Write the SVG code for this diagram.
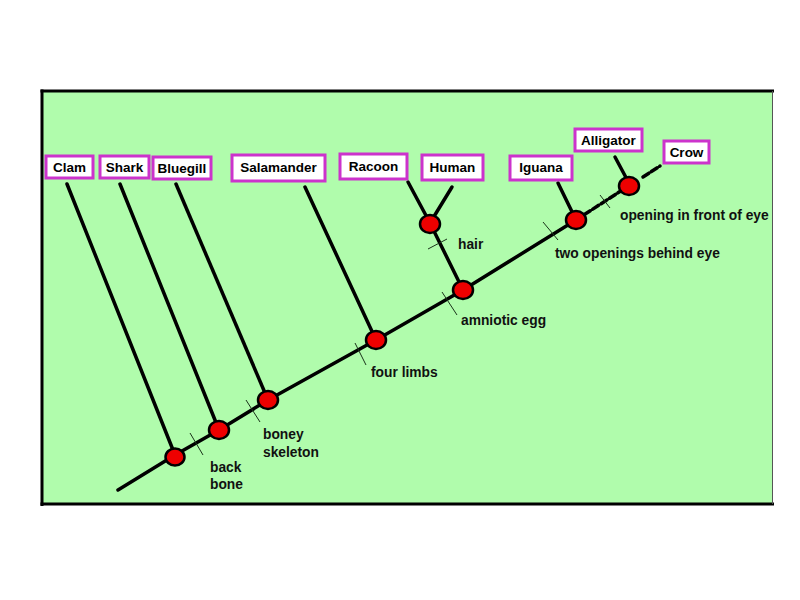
<svg xmlns="http://www.w3.org/2000/svg" width="800" height="600" viewBox="0 0 800 600">
<style>
.lbl rect{fill:#fff;stroke:#cc33cc;stroke-width:3}
.lbl text{font-family:"Liberation Sans",Arial,sans-serif;font-weight:bold;font-size:13.5px;fill:#000;text-anchor:middle}
.note{font-family:"Liberation Sans",Arial,sans-serif;font-weight:bold;font-size:13.8px;fill:#111}
.br{stroke:#000;stroke-width:3.5;fill:none;stroke-linecap:round}
.dash{stroke-dasharray:7 3}
.tick{stroke:#1a331a;stroke-width:1}
.node{fill:#ee0000;stroke:#000;stroke-width:2.5}
</style>
<rect x="0" y="0" width="800" height="600" fill="#fff"/>
<rect x="42" y="91" width="731" height="413" fill="#b0fcac"/>
<g stroke="#000">
<line x1="40.5" y1="91" x2="774" y2="91" stroke-width="3"/>
<line x1="42" y1="89.5" x2="42" y2="506" stroke-width="3"/>
<line x1="40.5" y1="504" x2="774" y2="504" stroke-width="3"/>
<line x1="772.5" y1="91" x2="772.5" y2="504" stroke-width="1" stroke="#555"/>
</g>
<g id="connectors">
<polyline class="br" points="118,490 175,455 219,430 268,400 376,340 463,290 576,220"/>
<line class="br dash" x1="576" y1="220" x2="630" y2="185"/>
<line class="br dash" x1="643" y1="177" x2="660" y2="166"/>
<line class="br" x1="67" y1="184" x2="175" y2="455"/>
<line class="br" x1="120" y1="184" x2="219" y2="430"/>
<line class="br" x1="176" y1="184" x2="268" y2="400"/>
<line class="br" x1="305" y1="187" x2="376" y2="340"/>
<line class="br" x1="408" y1="182" x2="430" y2="223"/>
<line class="br" x1="452" y1="187" x2="430" y2="223"/>
<line class="br" x1="430" y1="223" x2="463" y2="290"/>
<line class="br" x1="558" y1="183" x2="576" y2="220"/>
<line class="br" x1="615" y1="157" x2="630" y2="185"/>
<line class="tick" x1="190" y1="433" x2="203" y2="455"/>
<line class="tick" x1="246" y1="400" x2="260" y2="422"/>
<line class="tick" x1="355" y1="343" x2="366" y2="365"/>
<line class="tick" x1="442" y1="292" x2="457" y2="315"/>
<line class="tick" x1="428" y1="249" x2="447" y2="239"/>
<line class="tick" x1="543" y1="222" x2="558" y2="240"/>
<line class="tick" x1="600" y1="195" x2="610" y2="208"/>
</g>
<g id="nodes">
<ellipse class="node" cx="175" cy="457" rx="9.5" ry="8.5"/>
<ellipse class="node" cx="219" cy="430" rx="10" ry="9"/>
<ellipse class="node" cx="268" cy="400" rx="10" ry="9"/>
<ellipse class="node" cx="376" cy="340" rx="10" ry="9"/>
<ellipse class="node" cx="463" cy="290" rx="10" ry="9"/>
<ellipse class="node" cx="430" cy="224" rx="10" ry="9"/>
<ellipse class="node" cx="576" cy="220" rx="10" ry="9"/>
<ellipse class="node" cx="629" cy="186" rx="10" ry="9"/>
</g>
<g id="clam" class="lbl"><rect x="46" y="156" width="47" height="22"/><text x="69.5" y="172">Clam</text></g>
<g id="shark" class="lbl"><rect x="100" y="156" width="49" height="22"/><text x="124.5" y="172">Shark</text></g>
<g id="bluegill" class="lbl"><rect x="153" y="157" width="58" height="22"/><text x="182" y="173">Bluegill</text></g>
<g id="salamander" class="lbl"><rect x="232" y="155" width="93" height="26"/><text x="278.5" y="172">Salamander</text></g>
<g id="racoon" class="lbl"><rect x="340" y="154" width="67" height="25"/><text x="373.5" y="171">Racoon</text></g>
<g id="human" class="lbl"><rect x="422" y="155" width="61" height="25"/><text x="452.5" y="172">Human</text></g>
<g id="iguana" class="lbl"><rect x="510" y="156" width="62" height="24"/><text x="541" y="172">Iguana</text></g>
<g id="alligator" class="lbl"><rect x="575" y="129" width="67" height="22"/><text x="608.5" y="145">Alligator</text></g>
<g id="crow" class="lbl"><rect x="664" y="141" width="45" height="22"/><text x="686.5" y="157">Crow</text></g>
<g id="notes">
<text class="note" x="210" y="472">back</text>
<text class="note" x="210" y="489">bone</text>
<text class="note" x="263" y="439">boney</text>
<text class="note" x="263" y="457">skeleton</text>
<text class="note" x="371" y="377">four limbs</text>
<text class="note" x="461" y="325">amniotic egg</text>
<text class="note" x="458" y="249">hair</text>
<text class="note" x="555" y="258">two openings behind eye</text>
<text class="note" x="620" y="220">opening in front of eye</text>
</g>
</svg>
